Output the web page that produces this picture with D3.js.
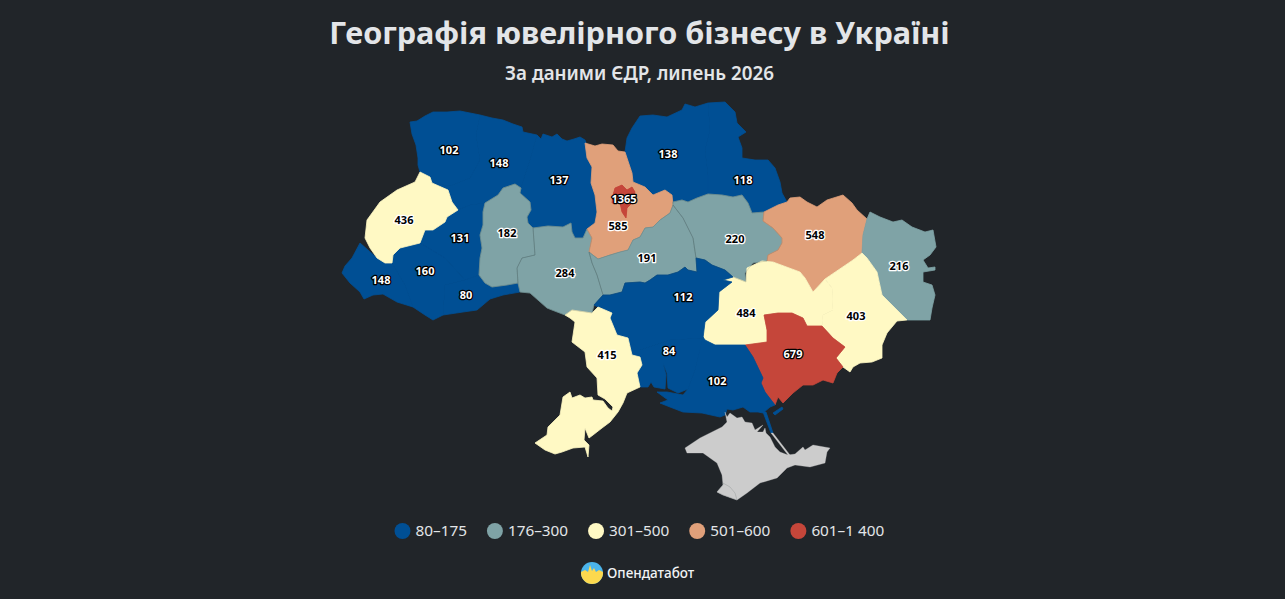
<!DOCTYPE html>
<html>
<head>
<meta charset="utf-8">
<script src="https://cdn.jsdelivr.net/npm/d3@7"></script>
<style>
  html, body { margin: 0; background: #212529; }
  svg { display: block; font-family: "Noto Sans", "Open Sans", sans-serif; }
</style>
</head>
<body>
<div id="chart-area"></div>
<script>
// values per oblast, same order everywhere
var regionNames = ["volyn", "rivne", "zhytomyr", "ternopil", "ivano", "chernivtsi", "zakarpattia", "lviv",
  "khmelnytskyi", "vinnytsia", "chernihiv", "sumy", "kyivObl", "kyivCity", "cherkasy", "poltava", "kharkiv",
  "luhansk", "donetsk", "dnipro", "zaporizhzhia", "kirovohrad", "mykolaiv", "kherson", "odesa"];
var regionValues = [102, 148, 137, 131, 160, 80, 148, 436,
  182, 284, 138, 118, 585, 1365, 191, 220, 548,
  216, 403, 484, 679, 112, 84, 102, 415];

var legendBreaks = [176, 301, 501, 601];
var legendLabels = ["80–175", "176–300", "301–500", "501–600", "601–1 400"];
var legendColors = ["#004f94", "#7fa3a6", "#fff9c4", "#e0a07a", "#c5463a"];

// label anchors in map units, same order as regionNames
var labelX = [449, 499, 559, 460, 425, 466, 381, 404, 507, 565, 668, 743, 618, 624, 647, 735, 815, 899, 856, 746, 793, 683, 669, 717, 607];
var labelY = [150, 163, 180, 238, 271, 295, 280, 220, 233, 273, 154, 180, 226, 199, 258, 239, 235, 266, 316, 313, 354, 297, 351, 381, 355];

// outlines, in map units
var outlines = {
  volyn: [[[410,122],[417,121],[425,116],[433,112],[447,112],[460,111],[470,113],[480,115],[476,135],[480,160],[470,178],[450,186],[432,183],[430,177],[420,172],[418,165],[418,158],[416,145],[412,134]]],
  rivne: [[[480,115],[492,118],[503,120],[513,124],[522,127],[523,132],[537,135],[530,160],[525,175],[521,188],[515,184],[503,188],[498,195],[485,203],[470,205],[458,210],[452,202],[448,190],[432,183],[450,186],[470,178],[480,160],[476,135]]],
  zhytomyr: [[[537,135],[541,139],[543,134],[552,137],[557,134],[562,139],[567,141],[574,139],[580,137],[585,140],[588,148],[587,158],[592,167],[591,183],[595,195],[597,212],[595,223],[587,229],[583,238],[575,238],[572,232],[571,223],[563,227],[548,226],[533,228],[528,223],[527,217],[531,210],[530,202],[520,193],[521,188],[525,175],[530,160]]],
  ternopil: [[[458,210],[470,205],[485,203],[483,212],[483,225],[480,235],[482,248],[480,258],[479,275],[465,280],[445,258],[420,243],[425,230],[433,230],[445,222],[447,217]]],
  ivano: [[[420,243],[445,258],[465,280],[445,285],[443,315],[433,320],[425,315],[413,307],[405,285],[392,263],[393,255],[400,248]]],
  chernivtsi: [[[445,285],[465,280],[479,275],[485,283],[492,287],[507,285],[518,283],[520,292],[503,295],[490,299],[477,310],[463,312],[443,315]]],
  zakarpattia: [[[360,243],[368,250],[377,258],[385,263],[392,263],[405,285],[413,307],[397,302],[383,294],[373,295],[364,299],[360,292],[350,283],[342,273],[345,266],[352,258]]],
  lviv: [[[420,172],[430,177],[432,183],[448,190],[452,202],[458,210],[447,217],[445,222],[433,230],[425,230],[420,243],[400,248],[393,255],[392,263],[385,263],[377,258],[370,248],[365,238],[367,220],[380,202],[397,190],[415,182]]],
  khmelnytskyi: [[[515,184],[521,188],[520,193],[530,202],[531,210],[527,217],[528,223],[533,228],[535,255],[522,258],[517,268],[518,283],[507,285],[492,287],[485,283],[479,275],[480,258],[482,248],[480,235],[483,225],[483,212],[485,203],[498,195],[503,188]]],
  vinnytsia: [[[533,228],[548,226],[563,227],[571,223],[572,232],[575,238],[583,238],[587,229],[592,238],[589,252],[592,263],[597,275],[603,295],[594,305],[592,313],[572,310],[565,315],[552,310],[547,308],[530,293],[520,292],[518,283],[517,268],[522,258],[535,255]]],
  chernihiv: [[[627,138],[632,128],[640,116],[653,115],[667,117],[682,110],[685,104],[695,107],[708,103],[710,130],[705,150],[708,175],[708,194],[697,198],[688,202],[682,200],[673,202],[672,195],[665,190],[653,195],[645,187],[633,182],[632,173],[625,152]]],
  sumy: [[[708,103],[725,102],[730,107],[735,112],[737,123],[746,132],[738,137],[742,148],[742,158],[755,160],[768,160],[775,168],[780,182],[782,193],[787,202],[778,205],[764,212],[752,213],[748,203],[742,195],[733,197],[722,195],[708,194],[708,175],[705,150],[710,130]]],
  kyivObl: [[[587,158],[585,143],[595,146],[602,144],[613,145],[618,151],[625,152],[632,173],[633,182],[645,187],[653,195],[665,190],[672,195],[673,205],[670,213],[660,220],[653,227],[645,228],[640,237],[633,240],[628,250],[620,252],[610,255],[598,259],[589,252],[592,238],[587,229],[595,223],[597,212],[595,195],[591,183],[592,167]]],
  kyivCity: [[[615,188],[622,185],[627,190],[632,187],[635,192],[632,203],[627,208],[626,218],[622,212],[620,203],[612,203],[613,195]]],
  cherkasy: [[[598,259],[610,255],[620,252],[628,250],[633,240],[640,237],[645,228],[653,227],[660,220],[670,213],[673,205],[683,218],[693,238],[696,258],[697,272],[688,270],[685,267],[678,272],[668,275],[657,275],[650,280],[645,283],[640,282],[625,283],[622,292],[610,295],[603,295],[597,275],[592,263],[589,252]]],
  poltava: [[[673,205],[673,202],[682,200],[688,202],[697,198],[708,194],[722,195],[733,197],[742,195],[748,203],[752,213],[764,212],[763,221],[773,228],[782,238],[782,243],[778,250],[768,255],[767,261],[753,263],[745,273],[746,282],[733,277],[725,270],[712,265],[705,260],[696,258],[693,238],[683,218]]],
  kharkiv: [[[763,221],[764,212],[768,210],[778,205],[787,202],[790,198],[800,197],[807,202],[817,207],[827,200],[843,195],[852,203],[857,210],[867,219],[863,235],[862,253],[853,260],[825,279],[813,292],[805,278],[800,272],[773,262],[767,261],[768,255],[778,250],[782,243],[782,238],[773,228]]],
  luhansk: [[[867,219],[870,212],[880,217],[893,222],[902,220],[912,227],[925,232],[933,230],[936,247],[930,255],[923,260],[928,268],[935,267],[935,270],[923,272],[923,282],[932,285],[935,295],[932,308],[930,320],[907,320],[890,303],[882,295],[877,272],[867,258],[862,253],[863,235]]],
  donetsk: [[[862,253],[867,258],[877,272],[882,295],[890,303],[907,320],[897,321],[887,333],[882,345],[882,358],[872,362],[860,363],[853,367],[850,372],[843,367],[836,358],[845,347],[833,338],[822,326],[823,315],[833,310],[832,288],[825,279],[853,260]]],
  dnipro: [[[747,268],[762,261],[773,262],[800,272],[805,278],[813,292],[825,279],[832,288],[833,310],[823,315],[822,326],[807,326],[803,318],[792,313],[778,313],[764,315],[767,330],[767,342],[745,345],[730,345],[715,345],[705,340],[703,337],[705,322],[718,310],[719,292],[732,282],[723,280],[733,277],[746,282]]],
  zaporizhzhia: [[[764,315],[778,313],[792,313],[803,318],[807,326],[822,326],[833,338],[845,347],[836,358],[843,367],[837,373],[833,383],[823,380],[813,385],[803,385],[793,393],[783,403],[778,397],[775,405],[765,392],[761,383],[763,378],[753,357],[745,345],[767,342],[767,330]]],
  kirovohrad: [[[594,305],[603,295],[610,295],[622,292],[625,283],[640,282],[645,283],[650,280],[657,275],[668,275],[678,272],[685,267],[688,270],[697,272],[696,258],[705,260],[712,265],[725,270],[733,277],[723,280],[732,282],[719,292],[718,310],[705,322],[703,338],[670,340],[640,350],[628,338],[617,335],[610,318],[612,313],[598,307]]],
  mykolaiv: [[[628,338],[632,355],[640,357],[642,365],[637,373],[640,387],[648,387],[651,382],[654,387],[665,389],[666,375],[663,363],[667,373],[668,388],[678,393],[688,389],[695,370],[703,338],[670,340],[640,350]]],
  kherson: [
    [[703,337],[705,340],[715,345],[730,345],[745,345],[753,357],[763,378],[761,383],[765,392],[775,405],[770,407],[763,413],[758,412],[750,412],[743,407],[733,410],[727,409],[725,415],[720,417],[702,413],[683,412],[670,407],[660,403],[668,400],[657,392],[667,392],[683,395],[688,389],[695,370]],
    [[763,412],[766,412],[773,433],[771,433]],
    [[773,413],[782,407],[783,409],[775,415]]
  ],
  odesa: [[[565,315],[572,310],[592,313],[598,307],[612,313],[610,318],[617,335],[628,338],[632,355],[640,357],[642,365],[637,373],[640,387],[627,393],[623,403],[618,412],[610,422],[602,428],[593,435],[589,438],[585,428],[584,440],[589,445],[588,457],[585,447],[573,448],[562,452],[555,454],[545,450],[535,443],[547,435],[548,427],[560,415],[563,397],[570,392],[572,398],[580,395],[585,398],[592,397],[593,400],[603,401],[608,408],[612,411],[613,407],[605,399],[598,395],[597,378],[587,367],[585,352],[572,342],[575,322],[570,318]]]
};

// Crimea has no value, it stays grey
var crimeaOutline = [
  [[725,412],[727,417],[730,413],[737,418],[742,417],[745,422],[752,423],[755,430],[763,425],[757,432],[763,432],[765,428],[766,433],[770,437],[775,447],[780,452],[788,455],[795,454],[803,447],[805,450],[813,445],[830,448],[827,452],[825,463],[810,467],[795,465],[787,468],[777,478],[760,483],[747,493],[737,500],[723,495],[717,492],[723,485],[722,475],[717,463],[703,453],[687,453],[685,448],[700,438],[722,427],[727,422]],
  [[771,433],[773,433],[790,455],[788,455]]
];
var sevastopolOutline = [[[723,483],[730,487],[735,493],[737,500],[723,495],[717,492],[723,485]]];

var width = 1285;
var height = 599;

var color = d3.scaleThreshold().domain(legendBreaks).range(legendColors);

var svg = d3.select("#chart-area").append("svg")
  .attr("width", width)
  .attr("height", height);

svg.append("text")
  .attr("x", 639.5)
  .attr("y", 44)
  .attr("text-anchor", "middle")
  .attr("font-size", "30.6px")
  .attr("font-weight", 700)
  .attr("fill", "#e3e5e8")
  .text("Географія ювелірного бізнесу в Україні");

svg.append("text")
  .attr("x", 639.5)
  .attr("y", 80)
  .attr("text-anchor", "middle")
  .attr("font-size", "18.8px")
  .attr("font-weight", 600)
  .attr("fill", "#e3e5e8")
  .text("За даними ЄДР, липень 2026");

// d3 drops the last point of a ring, it expects them closed
function toPolygons(rings) {
  return rings.map(ring => [ring.concat([ring[0]])]);
}

var features = regionNames.map((name, i) => ({
  type: "Feature",
  properties: { name: name, value: regionValues[i], lx: labelX[i], ly: labelY[i] },
  geometry: { type: "MultiPolygon", coordinates: toPolygons(outlines[name]) }
}));

var crimea = [crimeaOutline, sevastopolOutline].map(rings => ({
  type: "Feature",
  properties: {},
  geometry: { type: "MultiPolygon", coordinates: toPolygons(rings) }
}));

var projection = d3.geoIdentity()
  .fitExtent([[342, 102], [936, 500]], { type: "FeatureCollection", features: features.concat(crimea) });
var path = d3.geoPath(projection);

var g = svg.append("g");

// own-colour stroke first so the traced seams don't show the background
g.selectAll("path.region")
  .data(features)
  .enter().append("path")
  .attr("class", "region")
  .attr("d", path)
  .attr("fill", d => color(d.properties.value))
  .attr("stroke", d => color(d.properties.value))
  .attr("stroke-width", 0.8);

g.selectAll("path.crimea")
  .data(crimea)
  .enter().append("path")
  .attr("class", "crimea")
  .attr("d", path)
  .attr("fill", "#cccccc")
  .attr("stroke", "#cccccc")
  .attr("stroke-width", 0.3);

// faint borders, the blue oblasts melt together in the original
var bordered = ["khmelnytskyi", "vinnytsia", "cherkasy", "poltava"];
g.selectAll("path.border")
  .data(features.filter(d => bordered.includes(d.properties.name)).concat(crimea.slice(1)))
  .enter().append("path")
  .attr("class", "border")
  .attr("d", path)
  .attr("fill", "none")
  .attr("stroke", "#2b3338")
  .attr("stroke-opacity", 0.3)
  .attr("stroke-width", 0.5);

// kyiv city sits on top of the oblast again
g.append("path")
  .datum(features.find(d => d.properties.name === "kyivCity"))
  .attr("d", path)
  .attr("fill", d => color(d.properties.value));

g.selectAll("text.value")
  .data(features)
  .enter().append("text")
  .attr("class", "value")
  .attr("x", d => projection([d.properties.lx, d.properties.ly])[0])
  .attr("y", d => projection([d.properties.lx, d.properties.ly])[1])
  .attr("dy", "0.35em")
  .attr("text-anchor", "middle")
  .attr("font-size", "11px")
  .attr("font-weight", 700)
  .attr("paint-order", "stroke")
  .attr("stroke-width", 2.6)
  .attr("stroke-linejoin", "round")
  .attr("stroke", d => darkLabel(d.properties.value) ? "#ffffff" : "#000000")
  .attr("fill", d => darkLabel(d.properties.value) ? "#000000" : "#ffffff")
  .text(d => d.properties.value);

function darkLabel(v) {
  var c = color(v);
  return c !== legendColors[0] && c !== legendColors[4];
}

// legend flows left to right, each entry as wide as its text
var legend = svg.append("g");
var legendX = 402.5;
legendLabels.forEach((label, i) => {
  var item = legend.append("g").attr("transform", `translate(${legendX},531)`);
  item.append("circle")
    .attr("r", 8)
    .attr("fill", legendColors[i]);
  var txt = item.append("text")
    .attr("x", 13)
    .attr("dy", "0.35em")
    .attr("font-size", "15.3px")
    .attr("fill", "#e3e5e8")
    .text(label);
  legendX += 13 + txt.node().getComputedTextLength() + 28;
});

// logo
var defs = svg.append("defs");
defs.append("clipPath").attr("id", "logo-clip")
  .append("circle").attr("cx", 592).attr("cy", 573).attr("r", 11);

var logo = svg.append("g").attr("clip-path", "url(#logo-clip)");
logo.append("rect").attr("x", 581).attr("y", 562).attr("width", 22).attr("height", 22).attr("fill", "#4bb4ea");
logo.append("path")
  .attr("d", "M581 572 L585 570 L588 572 L590 565 L592 571 L594 568 L596 572 L599 570 L603 572 L603 584 L581 584 Z")
  .attr("fill", "#fdd94e");

svg.append("text")
  .attr("x", 607)
  .attr("y", 578)
  .attr("font-size", "13.5px")
  .attr("font-weight", 500)
  .attr("fill", "#f1f3f5")
  .text("Опендатабот");
</script>
</body>
</html>
